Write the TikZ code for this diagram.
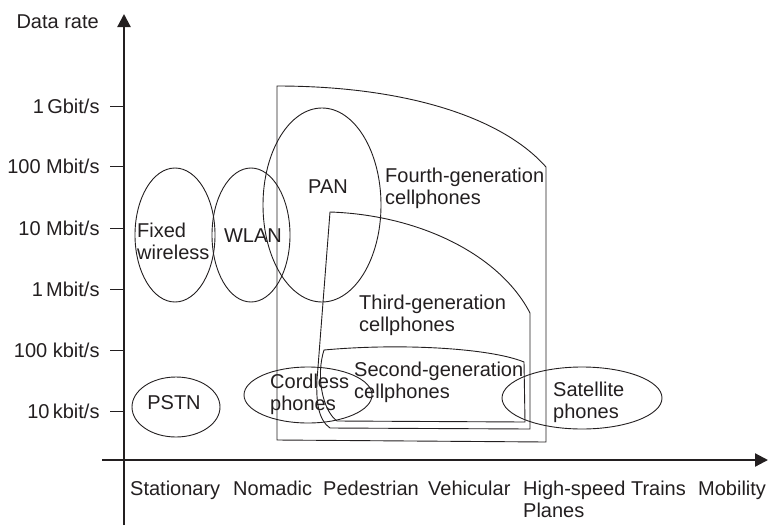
\documentclass[tikz,border=0pt]{standalone}
\usepackage{fontspec}
\setmainfont{Liberation Sans}
\usetikzlibrary{calc, arrows.meta}
\definecolor{ink}{HTML}{231F20}

\tikzset{
	region/.style={draw=ink, line width=0.9pt},
	txt/.style={text=ink, font=\fontsize{20}{22}\selectfont, inner sep=0pt},
	tick label/.style={txt, anchor=east, xshift=-10pt},
	axis/.style={draw=ink, line width=2.2pt, -{Triangle[length=13pt, width=13pt]}}
}

\begin{document}
\begin{tikzpicture}[x=1pt, y=-1pt]
		\useasboundingbox (0,0) rectangle (770,525);
		
		\coordinate (y bottom) at (124,525);
		\coordinate (y top) at (124,14);
		\coordinate (x left) at (102,460);
		\coordinate (x right) at (768,460);
		
		\draw [axis] (y bottom) -- (y top);
		\draw [axis] (x left) -- (x right);
		
		\node [txt, anchor=east] (rate label) at (99,22) {Data rate};
		
		\begin{scope}[ink, line width=0.9pt]
			\draw (124,106) -- ++(-14,0) node [tick label] (gbit) {1\,Gbit/s};
			\draw (124,166) -- ++(-14,0) node [tick label] (hmbit) {100 Mbit/s};
			\draw (124,228) -- ++(-14,0) node [tick label] (tmbit) {10 Mbit/s};
			\draw (124,289) -- ++(-14,0) node [tick label] (mbit) {1\,Mbit/s};
			\draw (124,350) -- ++(-14,0) node [tick label] (hkbit) {100 kbit/s};
			\draw (124,411) -- ++(-14,0) node [tick label] (tkbit) {10\,kbit/s};
		\end{scope}
		
		\begin{scope}[txt, anchor=base west]
			\node (stationary) at (130,495) {Stationary};
			\node (nomadic) at (233,495) {Nomadic};
			\node (pedestrian) at (323,495) {Pedestrian};
			\node (vehicular) at (428,495) {Vehicular};
			\node [align=left] (highspeed) at (523,517) {High-speed Trains\\Planes};
			\node (mobility) at (698,495) {Mobility};
		\end{scope}
		
		% cellular generations
		\draw [region] (277,86) .. controls (400,86) and (500,115) .. (546,167) -- (546,442) -- (277,440) -- cycle;
		\draw [region] (330,212) .. controls (420,215) and (500,255) .. (530,313) -- (530,429) -- (330,428) .. controls (318,420) and (316,400) .. (317,380) -- cycle;
		\draw [region] (324,350) .. controls (400,343) and (490,348) .. (524,362) -- (525,422) -- (337,421) .. controls (322,410) and (316,375) .. (324,350) -- cycle;
		
		% other systems
		\draw [region] (175,235) ellipse [x radius=40, y radius=67];
		\draw [region] (251,235) ellipse [x radius=39, y radius=67];
		\draw [region] (322,205) ellipse [x radius=59, y radius=97];
		\draw [region] (176,407) ellipse [x radius=44, y radius=30];
		\draw [region] (308,395) ellipse [x radius=64, y radius=28];
		\draw [region] (582,398) ellipse [x radius=80, y radius=31];
		
		\begin{scope}[txt]
			\node [anchor=west, align=left] (fixed) at (137,241) {Fixed\\wireless};
			\node (wlan) at (253,236) {WLAN};
			\node (pan) at (328,187) {PAN};
			\node [anchor=west, align=left] (fourth) at (385,188) {Fourth-generation\\cellphones};
			\node [anchor=west, align=left] (third) at (359,315) {Third-generation\\cellphones};
			\node [anchor=west, align=left] (second) at (354,382) {Second-generation\\cellphones};
			\node [anchor=west, align=left] (cordless) at (270,394) {Cordless\\phones};
			\node (pstn) at (174,403) {PSTN};
			\node [anchor=west, align=left] (satellite) at (553,402) {Satellite\\phones};
		\end{scope}
	\end{tikzpicture}
\end{document}
